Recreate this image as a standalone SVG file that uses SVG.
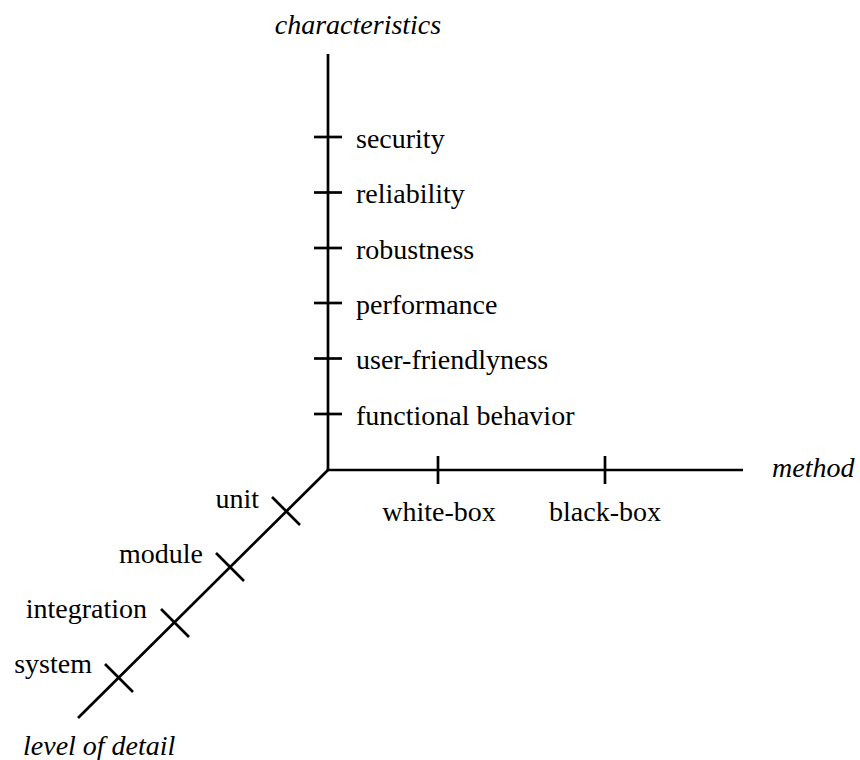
<svg xmlns="http://www.w3.org/2000/svg" width="860" height="760" viewBox="0 0 860 760">
<style>
.ax{stroke:#000;stroke-width:2.7;fill:none;stroke-linecap:butt}
.t{font-family:"Liberation Serif","Times New Roman",serif;font-size:28px;fill:#000}
.i{font-style:italic}
.m{text-anchor:middle}
.e{text-anchor:end}
</style>
<rect width="860" height="760" fill="#fff"/>
<g id="axes">
<line class="ax" x1="328" y1="54" x2="328" y2="470"/>
<line class="ax" x1="326.7" y1="470" x2="743" y2="470"/>
<line class="ax" x1="328.5" y1="469.5" x2="78" y2="718"/>
</g>
<g id="ticks">
<line class="ax" x1="314" y1="137" x2="342" y2="137"/>
<line class="ax" x1="314" y1="192.5" x2="342" y2="192.5"/>
<line class="ax" x1="314" y1="248" x2="342" y2="248"/>
<line class="ax" x1="314" y1="303" x2="342" y2="303"/>
<line class="ax" x1="314" y1="358.5" x2="342" y2="358.5"/>
<line class="ax" x1="314" y1="414" x2="342" y2="414"/>
<line class="ax" x1="438" y1="456" x2="438" y2="484"/>
<line class="ax" x1="605" y1="456" x2="605" y2="484"/>
<line class="ax" x1="272" y1="497" x2="300" y2="525"/>
<line class="ax" x1="216" y1="553" x2="244" y2="581"/>
<line class="ax" x1="161" y1="609" x2="189" y2="637"/>
<line class="ax" x1="105" y1="664" x2="133" y2="692"/>
</g>
<g id="labels">
<text class="t i m" x="358" y="34">characteristics</text>
<text class="t i" x="772" y="477">method</text>
<text class="t i" x="23" y="755">level of detail</text>
<text class="t" x="356" y="147.5">security</text>
<text class="t" x="356" y="203">reliability</text>
<text class="t" x="356" y="258.5">robustness</text>
<text class="t" x="356" y="313.5">performance</text>
<text class="t" x="356" y="369">user-friendlyness</text>
<text class="t" x="356" y="424.5">functional behavior</text>
<text class="t m" x="439" y="521">white-box</text>
<text class="t m" x="605" y="521">black-box</text>
<text class="t e" x="259" y="508">unit</text>
<text class="t e" x="203" y="563">module</text>
<text class="t e" x="147" y="618">integration</text>
<text class="t e" x="92" y="673">system</text>
</g>
</svg>
